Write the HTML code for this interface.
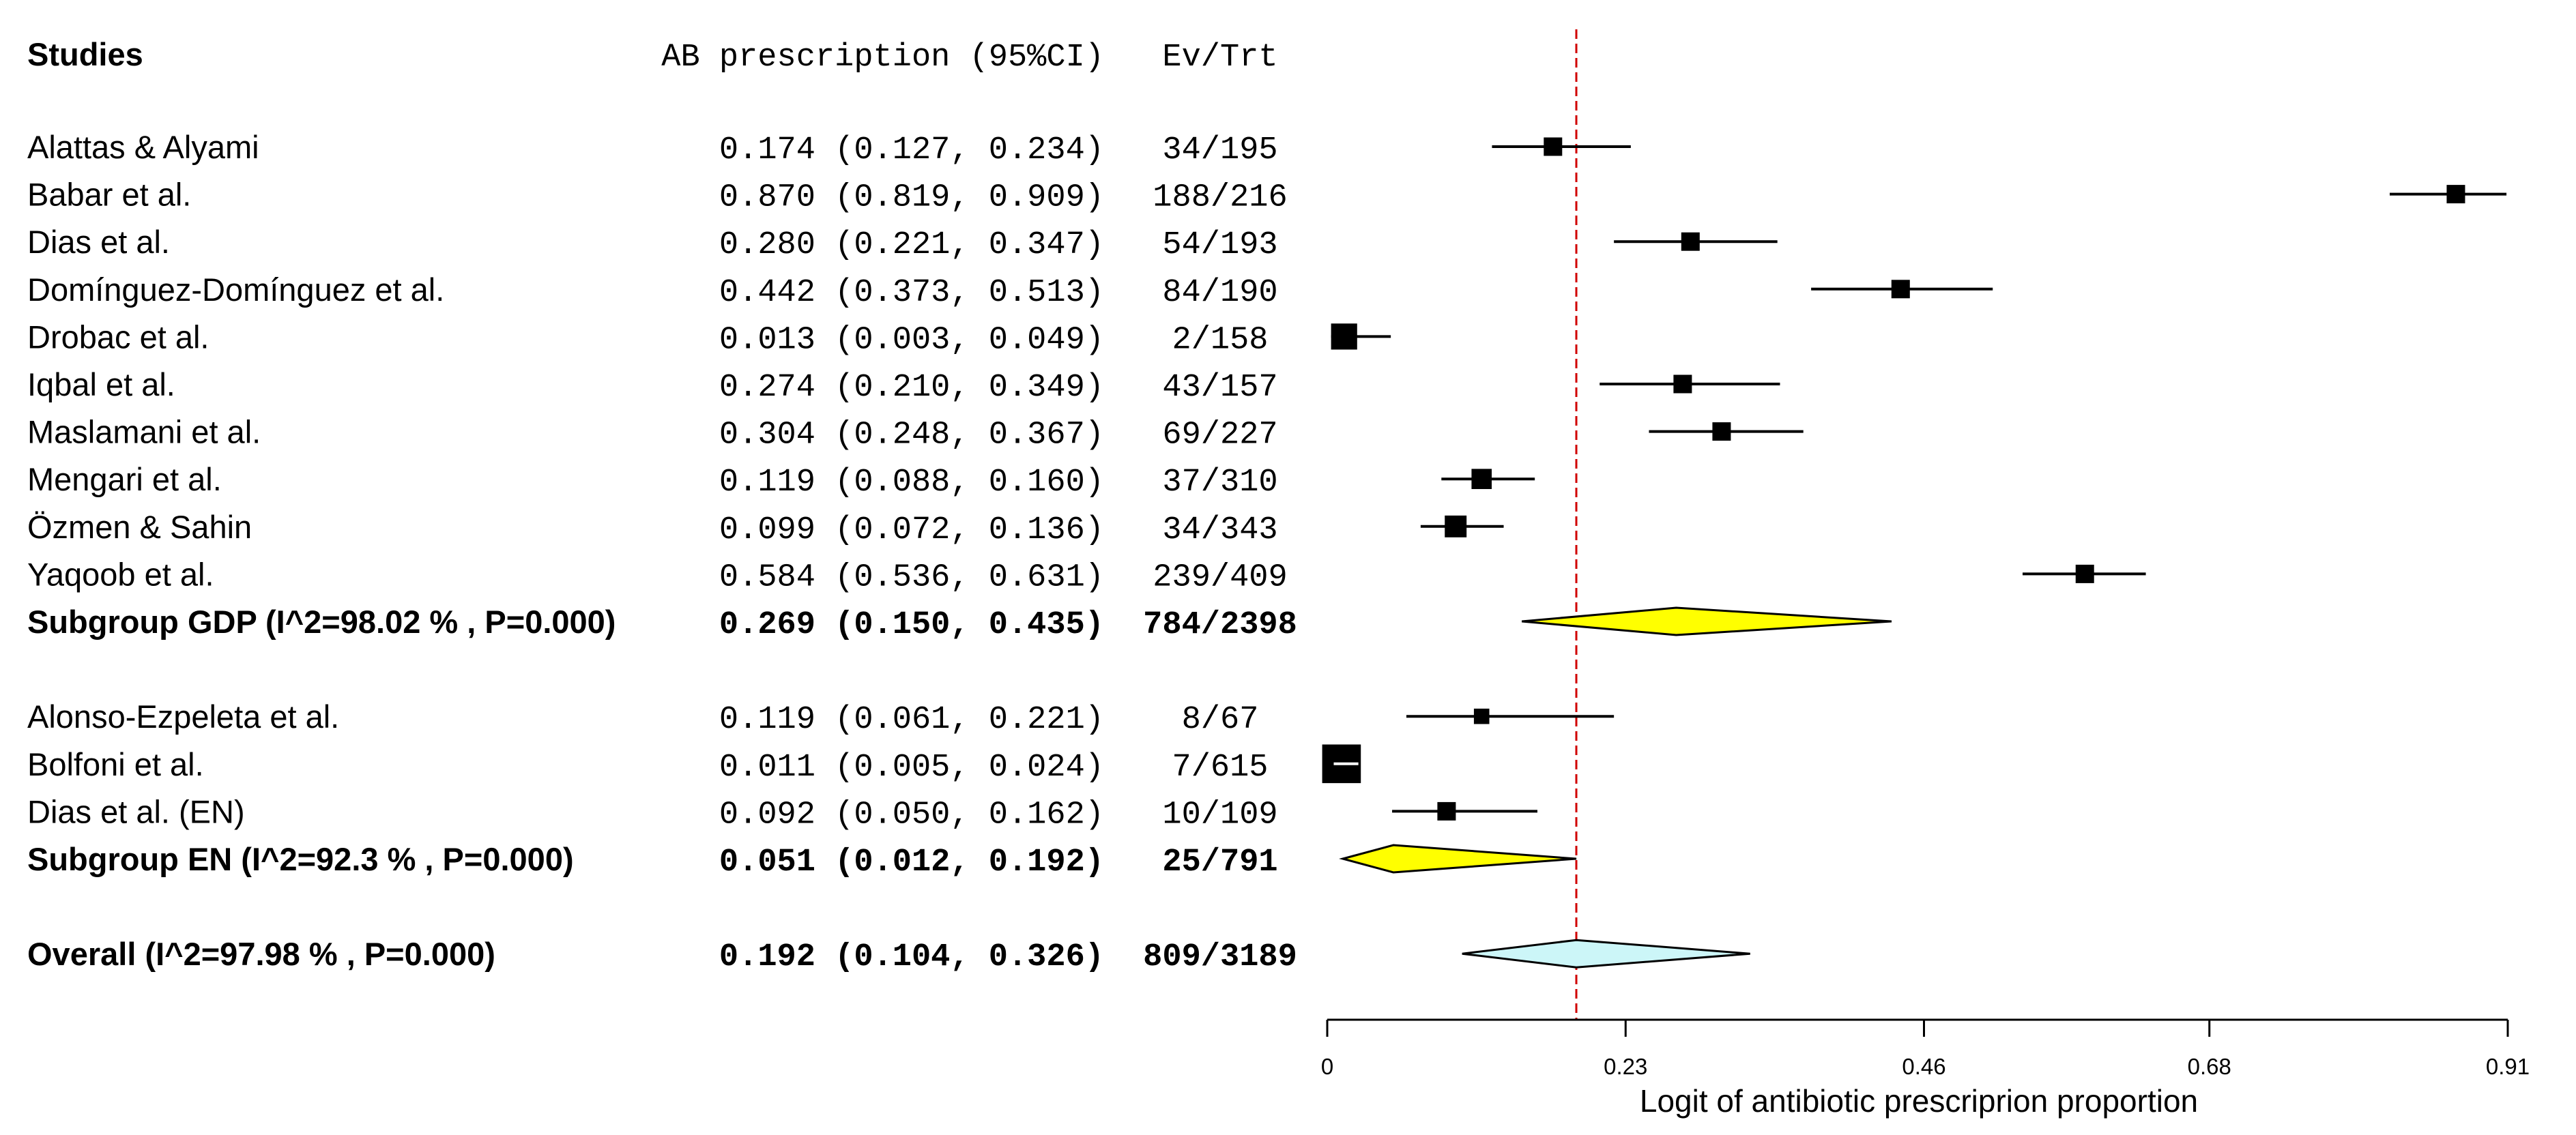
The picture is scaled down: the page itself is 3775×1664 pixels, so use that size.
<!DOCTYPE html>
<html><head><meta charset="utf-8"><style>
html,body{margin:0;padding:0;background:#fff;}
svg{display:block;}
.lab{font-family:"Liberation Sans",Arial,sans-serif;font-size:47px;fill:#000;}
.mono{font-family:"Liberation Mono","Courier New",monospace;font-size:47px;fill:#000;}
.b{font-weight:bold;}
</style></head><body>
<svg id="chart" width="3775" height="1664" viewBox="0 0 3775 1664" xmlns="http://www.w3.org/2000/svg">
<rect width="3775" height="1664" fill="#fff"/>
<text class="lab b" x="40" y="96">Studies</text>
<text class="mono" x="1618" y="96" text-anchor="end">AB prescription (95%CI)</text>
<text class="mono" x="1788" y="96" text-anchor="middle">Ev/Trt</text>
<g id="rows"></g>
<g id="marks"></g>
<g id="axis"></g>
<text class="lab" x="2812" y="1630" text-anchor="middle" style="font-size:46px">Logit of antibiotic prescriprion proportion</text>
</svg>
<script>
const labels = ["Alattas & Alyami","Babar et al.","Dias et al.","Domínguez-Domínguez et al.","Drobac et al.","Iqbal et al.","Maslamani et al.","Mengari et al.","Özmen & Sahin","Yaqoob et al.","Subgroup GDP (I^2=98.02 % , P=0.000)","Alonso-Ezpeleta et al.","Bolfoni et al.","Dias et al. (EN)","Subgroup EN (I^2=92.3 % , P=0.000)","Overall (I^2=97.98 % , P=0.000)"];
const rowSlots = [0,1,2,3,4,5,6,7,8,9,10,12,13,14,15,17];
const kinds = ["s","s","s","s","s","s","s","s","s","s","d","s","s","s","d","o"];
const est = [0.174,0.870,0.280,0.442,0.013,0.274,0.304,0.119,0.099,0.584,0.269,0.119,0.011,0.092,0.051,0.192];
const lo  = [0.127,0.819,0.221,0.373,0.003,0.210,0.248,0.088,0.072,0.536,0.150,0.061,0.005,0.050,0.012,0.104];
const hi  = [0.234,0.909,0.347,0.513,0.049,0.349,0.367,0.160,0.136,0.631,0.435,0.221,0.024,0.162,0.192,0.326];
const evts = ["34/195","188/216","54/193","84/190","2/158","43/157","69/227","37/310","34/343","239/409","784/2398","8/67","7/615","10/109","25/791","809/3189"];
const weights = [1.0,1.0,1.0,1.0,2.0,1.0,1.0,1.2,1.4,1.0,0,0.7,4.4,1.0,0,0];
const ticks = [0,0.23,0.46,0.68,0.91];
const tickLabels = ["0","0.23","0.46","0.68","0.91"];
const summary = 0.192;

const NS="http://www.w3.org/2000/svg";
const X0=1945,X1=3675,DMIN=0,DMAX=0.91;
const xs=v=>X0+(v-DMIN)/(DMAX-DMIN)*(X1-X0);
const ys=slot=>215+slot*69.6;
function mk(tag,attrs,parent){const e=document.createElementNS(NS,tag);for(const k in attrs)e.setAttribute(k,attrs[k]);parent.appendChild(e);return e;}
const rows=document.getElementById('rows'),marks=document.getElementById('marks'),axis=document.getElementById('axis');

const ref=mk('line',{x1:xs(summary),x2:xs(summary),y1:43,y2:1495,stroke:'#d00000','stroke-width':3,'stroke-dasharray':'14,7'},marks);



labels.forEach((lab,i)=>{
  const y=ys(rowSlots[i]);
  const bold=kinds[i]!=='s';
  const t=mk('text',{x:40,y:y+17,class:'lab'+(bold?' b':'')},rows);t.textContent=lab;
  
  
  const e=mk('text',{x:1618,y:y+17,'text-anchor':'end',class:'mono'+(bold?' b':''),'xml:space':'preserve'},rows);
  e.textContent=est[i].toFixed(3)+' ('+lo[i].toFixed(3)+', '+hi[i].toFixed(3)+')';
  
  
  const v=mk('text',{x:1788,y:y+17,'text-anchor':'middle',class:'mono'+(bold?' b':'')},rows);v.textContent=evts[i];
  
  

  if(kinds[i]==='s'){
    const l=mk('line',{x1:xs(lo[i]),x2:xs(hi[i]),y1:y,y2:y,stroke:'#000','stroke-width':4},marks);
    
    
    const s=27*Math.sqrt(weights[i]);
    const cx=xs(est[i]);
    const r=mk('rect',{x:cx-s/2,y:y-s/2,width:s,height:s,fill:'#000'},marks);
    
    
    if(xs(lo[i])>cx-s/2&&xs(hi[i])<cx+s/2){
      const w=mk('line',{x1:xs(lo[i]),x2:xs(hi[i]),y1:y,y2:y,stroke:'#fff','stroke-width':4},marks);
      
      
    }
  } else {
    const h=20;
    const pts=[[xs(lo[i]),y],[xs(est[i]),y-h],[xs(hi[i]),y],[xs(est[i]),y+h]].map(p=>p.join(',')).join(' ');
    const d=mk('polygon',{points:pts,fill:kinds[i]==='o'?'#ccf6f8':'#ffff00',stroke:'#000','stroke-width':3},marks);
    
    
  }
});

const al=mk('line',{x1:X0,x2:X1,y1:1495,y2:1495,stroke:'#000','stroke-width':3},axis);


ticks.forEach((t,i)=>{
  const tk=mk('line',{x1:xs(t),x2:xs(t),y1:1495,y2:1520,stroke:'#000','stroke-width':3},axis);
  
  
  const tl=mk('text',{x:xs(t),y:1575,'text-anchor':'middle',class:'lab',style:'font-size:33px'},axis);
  tl.textContent=tickLabels[i];
  
  
});
</script>
</body></html>
